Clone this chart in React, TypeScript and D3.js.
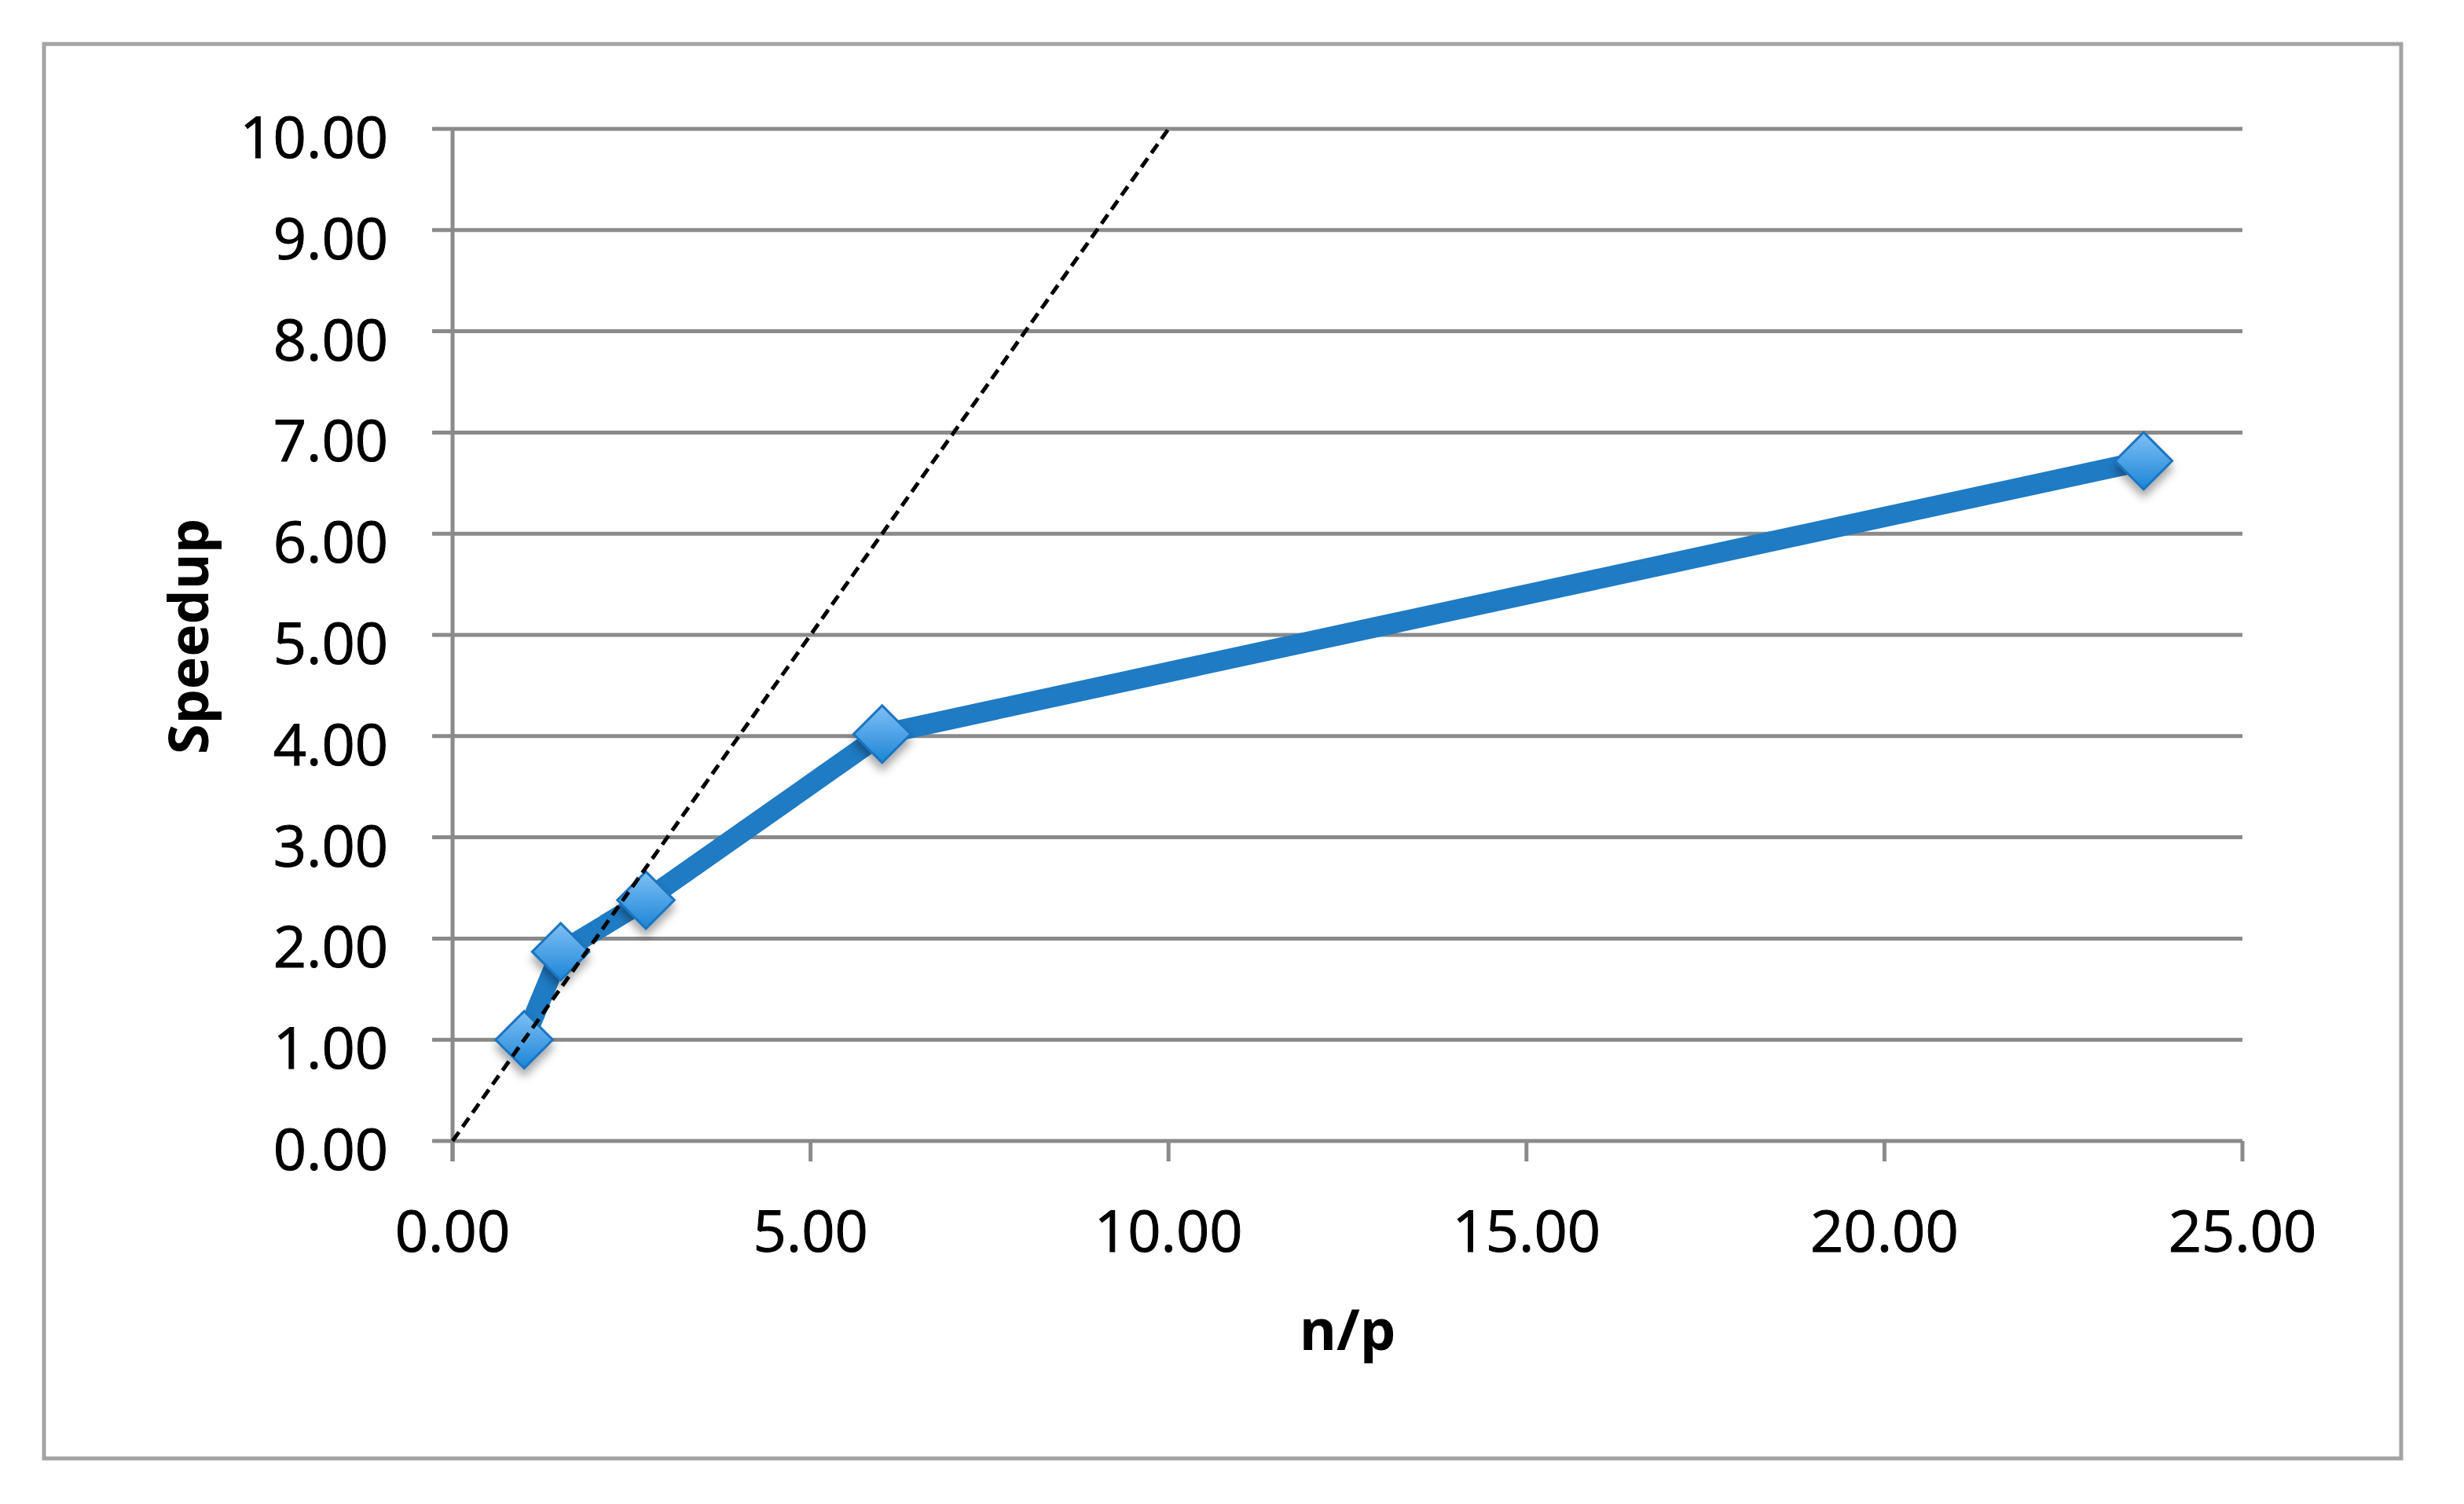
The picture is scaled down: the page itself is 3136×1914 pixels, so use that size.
import React from "react";
import * as d3 from "d3";

const npValues = [1.0, 1.51, 2.7, 6.0, 23.62];
const speedupValues = [1.0, 1.87, 2.38, 4.02, 6.72];
const idealX = [0, 10];
const idealY = [0, 10];
const xTicks = [0, 5, 10, 15, 20, 25];
const yTicks = [0, 1, 2, 3, 4, 5, 6, 7, 8, 9, 10];
const xTitle = "n/p";
const yTitle = "Speedup";

const W = 3136;
const H = 1914;
const FONT = "'Open Sans', 'DejaVu Sans', sans-serif";

export default function App() {
  const x = d3.scaleLinear().domain([0, 25]).range([576, 2854]);
  const y = d3.scaleLinear().domain([0, 10]).range([1452, 164]);
  const fmt = d3.format(".2f");

  const pts = npValues.map((v, i) => [v, speedupValues[i]] as [number, number]);
  const line = d3
    .line<[number, number]>()
    .x((d) => x(d[0]))
    .y((d) => y(d[1]));
  const ideal = idealX.map((v, i) => [v, idealY[i]] as [number, number]);
  const diamond = d3.symbol().type(d3.symbolDiamond2).size(2 * 41 * 41)();

  const grid = "#8a8a8a";

  return (
    <div style={{ position: "absolute", left: 0, top: 0 }}>
      <svg width={W} height={H} style={{ display: "block", background: "#fff" }}>
        <defs>
          <linearGradient id="mk" x1="0" y1="0" x2="0" y2="1">
            <stop offset="0" stopColor="#7fc0f6" />
            <stop offset="1" stopColor="#1c85d6" />
          </linearGradient>
          <filter id="sh" x="-50%" y="-50%" width="200%" height="200%">
            <feDropShadow dx="0" dy="9" stdDeviation="6" floodColor="#000" floodOpacity="0.35" />
          </filter>
        </defs>
        <rect x={56} y={56} width={3000} height={1800} fill="#fff" stroke="#a3a3a3" strokeWidth={5} />
        {yTicks.map((t) => (
          <line key={"g" + t} x1={550} x2={x(25)} y1={y(t)} y2={y(t)} stroke={grid} strokeWidth={5} />
        ))}
        <line x1={x(0)} x2={x(0)} y1={y(10)} y2={y(0) + 26} stroke={grid} strokeWidth={5} />
        {xTicks.map((t) => (
          <line key={"xt" + t} x1={x(t)} x2={x(t)} y1={y(0)} y2={y(0) + 26} stroke={grid} strokeWidth={5} />
        ))}
        {yTicks.map((t) => (
          <text key={"yl" + t} x={494} y={y(t) + 37} textAnchor="end" fontFamily={FONT} fontSize={74} fill="#000" stroke="#000" strokeWidth={1}>
            {fmt(t)}
          </text>
        ))}
        {xTicks.map((t) => (
          <text key={"xl" + t} x={x(t)} y={1593} textAnchor="middle" fontFamily={FONT} fontSize={74} fill="#000" stroke="#000" strokeWidth={1}>
            {fmt(t)}
          </text>
        ))}
        <text x={1715} y={1718} textAnchor="middle" fontFamily={FONT} fontWeight="bold" fontSize={72} fill="#000">
          {xTitle}
        </text>
        <text
          transform={`translate(265,810) rotate(-90)`}
          textAnchor="middle"
          fontFamily={FONT}
          fontWeight="bold"
          fontSize={70}
          fill="#000"
        >
          {yTitle}
        </text>
        <path d={line(pts) || ""} fill="none" stroke="#1f7bc4" strokeWidth={26} strokeLinejoin="round" />
        {pts.map((p, i) => (
          <path
            key={"m" + i}
            d={diamond || ""}
            transform={`translate(${x(p[0])},${y(p[1])})`}
            fill="url(#mk)"
            stroke="#1b74bf"
            strokeWidth={3}
            filter="url(#sh)"
          />
        ))}
        <path d={line(ideal) || ""} fill="none" stroke="#000" strokeWidth={5} strokeDasharray="14,8" />
      </svg>
    </div>
  );
}
